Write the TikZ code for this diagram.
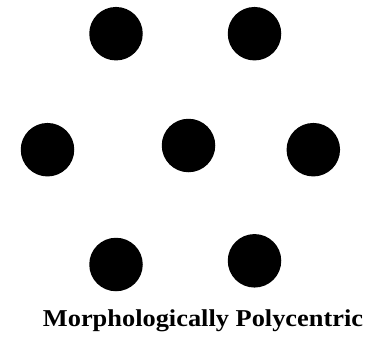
\documentclass[tikz,border=0pt]{standalone}
\usepackage{fontspec}
\setmainfont{Liberation Serif}
\begin{document}
\begin{tikzpicture}[x=1pt,y=-1pt,
  dot/.style={circle,fill=black,inner sep=0pt,minimum size=53.5pt},
  caption/.style={anchor=base,inner sep=0pt,font=\bfseries\fontsize{24.2}{28}\selectfont}]
\useasboundingbox (0,0) rectangle (390,337);
\node[dot] (tl) at (116,33.7) {};
\node[dot] (tr) at (254.5,33.7) {};
\node[dot] (ml) at (47.5,149.7) {};
\node[dot] (mc) at (188.5,145.5) {};
\node[dot] (mr) at (313.3,149.7) {};
\node[dot] (bl) at (116,264.5) {};
\node[dot] (br) at (254.5,260.8) {};
\node[caption] (lab) at (203,326.7) {\scalebox{1.09}[1]{Morphologically Polycentric}};
\end{tikzpicture}
\end{document}
